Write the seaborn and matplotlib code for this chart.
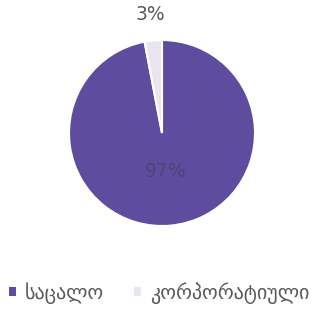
import matplotlib
matplotlib.use("Agg")
import matplotlib.pyplot as plt
import seaborn as sns
import numpy as np
from matplotlib.patches import Patch

categories = ["საცალო", "კორპორატიული"]
values = [97, 3]
pct_labels = ["97%", "3%"]

sns.set_theme(style="white")
plt.rcParams['font.family'] = ['DejaVu Sans']

colors = ["#5e4d9f", "#e9e5ef"]

fig = plt.figure(figsize=(3.21, 3.11), dpi=100)
r_px = 93
cx, cy = 162, 133
W, H = 321, 311
ax = fig.add_axes([(cx - r_px) / W, 1 - (cy + r_px) / H, 2 * r_px / W, 2 * r_px / H])
wedges, _ = ax.pie(values, colors=colors, startangle=90, counterclock=False,
                   wedgeprops=dict(edgecolor="white", linewidth=1.5), radius=1)
ax.set_xlim(-1, 1)
ax.set_ylim(-1, 1)
ax.set_aspect("equal")
ax.axis("off")

dists = [0.42, 1.28]
txtcol = ["#4a4677", "#595959"]
for w, lab, d, c in zip(wedges, pct_labels, dists, txtcol):
    ang = np.deg2rad((w.theta1 + w.theta2) / 2)
    ax.text(d * np.cos(ang), d * np.sin(ang), lab, ha="center", va="center",
            fontsize=13.5, color=c)

handles = [Patch(facecolor=col, edgecolor="none") for col in colors]
leg = fig.legend(handles, categories, loc="center left", bbox_to_anchor=(9 / W, 1 - 293 / H),
                 ncol=2, frameon=False, fontsize=14.4, handlelength=0.35, handleheight=0.35,
                 handletextpad=0.45, columnspacing=1.5, labelcolor="#595959",
                 borderpad=0, borderaxespad=0)

fig.savefig("out.png", dpi=100)
